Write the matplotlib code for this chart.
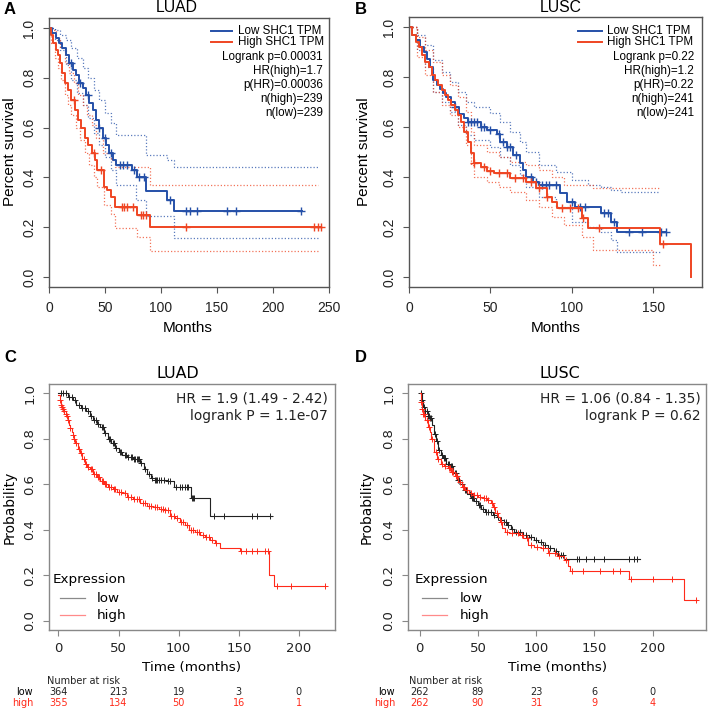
import numpy as np
import matplotlib
matplotlib.use('Agg')
import matplotlib.pyplot as plt
import matplotlib.transforms as mtransforms
from matplotlib.lines import Line2D

W, H = 709, 710

# ---------------- A : GEPIA LUAD ----------------
A_low_t = [0, 3, 6, 9, 12, 15, 18, 21, 24, 27, 30, 33, 36, 39, 42, 45, 48, 51, 54, 57, 60, 74, 79, 87, 105, 112]
A_low_s = [1.0, 0.98, 0.96, 0.94, 0.92, 0.89, 0.86, 0.83, 0.81, 0.78, 0.76, 0.73, 0.70, 0.67, 0.63, 0.60, 0.56, 0.53, 0.50, 0.47, 0.45, 0.43, 0.40, 0.345, 0.31, 0.264]
A_low_end = 226
A_low_cens = [20, 28, 35, 45, 50, 55, 63, 66, 70, 76, 80, 85, 108, 122, 126, 132, 159, 167, 225]
A_high_t = [0, 2, 4, 6, 8, 10, 12, 14, 17, 20, 23, 26, 29, 32, 35, 38, 41, 43, 49, 52, 55, 59, 79, 90]
A_high_s = [1.0, 0.97, 0.94, 0.91, 0.89, 0.86, 0.82, 0.78, 0.75, 0.71, 0.67, 0.63, 0.60, 0.56, 0.53, 0.50, 0.47, 0.43, 0.36, 0.35, 0.32, 0.28, 0.25, 0.20]
A_high_end = 243
A_high_cens = [22, 40, 46, 65, 67, 70, 75, 82, 84, 87, 122, 237, 240, 243]
A_low_up_t = [0, 5, 10, 15, 20, 25, 30, 35, 40, 45, 50, 55, 60, 87, 105, 112]
A_low_up_s = [1.0, 0.99, 0.97, 0.95, 0.92, 0.88, 0.84, 0.80, 0.75, 0.71, 0.66, 0.62, 0.57, 0.49, 0.47, 0.443]
A_low_lo_t = [0, 5, 10, 15, 20, 25, 30, 35, 40, 45, 50, 55, 60, 78, 87, 112]
A_low_lo_s = [1.0, 0.95, 0.91, 0.85, 0.79, 0.74, 0.69, 0.64, 0.58, 0.53, 0.48, 0.43, 0.37, 0.31, 0.245, 0.155]
A_high_up_t = [0, 3, 6, 10, 14, 18, 22, 26, 30, 34, 38, 42, 48, 55, 59, 90]
A_high_up_s = [1.0, 0.99, 0.96, 0.92, 0.86, 0.82, 0.78, 0.73, 0.69, 0.65, 0.61, 0.56, 0.50, 0.47, 0.44, 0.37]
A_high_lo_t = [0, 2, 5, 8, 11, 14, 17, 20, 24, 28, 32, 36, 40, 43, 49, 55, 59, 79, 90]
A_high_lo_s = [1.0, 0.94, 0.88, 0.84, 0.79, 0.73, 0.69, 0.65, 0.60, 0.55, 0.50, 0.45, 0.40, 0.36, 0.29, 0.255, 0.195, 0.16, 0.105]
A_ci_end = 240
A_text = ['Logrank p=0.00031', 'HR(high)=1.7', 'p(HR)=0.00036', 'n(high)=239', 'n(low)=239']

# ---------------- B : GEPIA LUSC ----------------
B_low_t = [0, 2, 4, 7, 9, 11, 13, 15, 17, 19, 21, 23, 26, 28, 31, 34, 36, 44, 48, 54, 56, 60, 64, 68, 70, 72, 76, 80, 93, 97, 102, 118, 124, 128]
B_low_s = [1.0, 0.97, 0.95, 0.92, 0.90, 0.874, 0.84, 0.79, 0.77, 0.754, 0.735, 0.72, 0.70, 0.68, 0.654, 0.635, 0.62, 0.60, 0.588, 0.574, 0.54, 0.52, 0.488, 0.455, 0.428, 0.40, 0.38, 0.368, 0.335, 0.30, 0.28, 0.258, 0.222, 0.18]
B_low_end = 158
B_low_cens = [28, 36, 38, 40, 42, 44, 46, 50, 55, 58, 60, 62, 66, 75, 78, 82, 84, 86, 90, 100, 105, 108, 120, 122, 126, 135, 143, 155, 158]
B_high_t = [0, 2, 4, 6, 8, 10, 12, 14, 16, 18, 20, 22, 24, 26, 28, 30, 32, 34, 36, 38, 40, 44, 48, 52, 62, 72, 78, 85, 88, 91, 106, 110, 154, 173]
B_high_s = [1.0, 0.97, 0.94, 0.92, 0.89, 0.86, 0.84, 0.81, 0.79, 0.77, 0.75, 0.73, 0.71, 0.69, 0.67, 0.65, 0.62, 0.58, 0.54, 0.495, 0.455, 0.44, 0.425, 0.415, 0.395, 0.38, 0.355, 0.32, 0.30, 0.275, 0.235, 0.198, 0.133, 0.0]
B_high_end = 173
B_high_cens = [40, 46, 50, 55, 60, 65, 70, 75, 80, 85, 94, 99, 104, 107, 117, 156]
B_low_up_t = [0, 5, 10, 15, 20, 25, 30, 35, 40, 50, 56, 62, 68, 72, 80, 90, 100, 110, 118, 124, 130]
B_low_up_s = [1.0, 0.97, 0.93, 0.87, 0.82, 0.78, 0.74, 0.70, 0.68, 0.655, 0.62, 0.58, 0.54, 0.50, 0.45, 0.42, 0.39, 0.37, 0.36, 0.35, 0.34]
B_low_lo_t = [0, 5, 10, 15, 20, 25, 30, 35, 40, 50, 56, 62, 68, 72, 80, 90, 100, 110, 118, 124, 128]
B_low_lo_s = [1.0, 0.91, 0.84, 0.74, 0.70, 0.66, 0.61, 0.57, 0.55, 0.52, 0.48, 0.45, 0.41, 0.36, 0.32, 0.28, 0.22, 0.20, 0.18, 0.15, 0.10]
B_high_up_t = [0, 5, 10, 15, 20, 25, 30, 35, 38, 40, 48, 55, 62, 72, 80, 88, 95, 113]
B_high_up_s = [1.0, 0.96, 0.91, 0.86, 0.81, 0.77, 0.72, 0.66, 0.58, 0.53, 0.50, 0.48, 0.46, 0.45, 0.43, 0.40, 0.37, 0.355]
B_high_lo_t = [0, 5, 10, 15, 20, 25, 30, 35, 38, 40, 48, 55, 62, 72, 80, 88, 95, 106, 113, 150]
B_high_lo_s = [1.0, 0.88, 0.81, 0.74, 0.69, 0.65, 0.60, 0.53, 0.45, 0.40, 0.38, 0.36, 0.34, 0.31, 0.28, 0.24, 0.21, 0.16, 0.11, 0.05]
B_ci_end = 154
B_text = ['Logrank p=0.22', 'HR(high)=1.2', 'p(HR)=0.22', 'n(high)=241', 'n(low)=241']

# ---------------- C : KM plotter LUAD ----------------
C_low_t = [0, 8, 12, 15, 19, 23, 26, 29, 32, 35, 38, 41, 44, 47, 50, 53, 57, 62, 68, 71, 74, 77, 80, 90, 96, 110, 126]
C_low_s = [1.0, 0.985, 0.97, 0.95, 0.935, 0.92, 0.90, 0.88, 0.865, 0.85, 0.825, 0.80, 0.78, 0.76, 0.74, 0.73, 0.72, 0.71, 0.692, 0.665, 0.645, 0.627, 0.62, 0.612, 0.59, 0.54, 0.46]
C_low_end = 178
C_low_cens = [2, 4, 6, 9, 11, 14, 17, 20, 22, 25, 27, 30, 31, 33, 36, 37, 39, 42, 43, 45, 46, 48, 51, 52, 55, 56, 58, 60, 61, 63, 64, 65, 66, 67, 69, 72, 75, 78, 80, 81, 82, 84, 85, 88, 91, 93, 98, 101, 103, 105, 107, 108, 111, 112, 113, 129, 138, 161, 165, 176]
C_high_t = [0, 1, 2, 3, 4, 5, 6, 7, 8, 9, 10, 11, 12, 13, 14, 16, 18, 20, 22, 24, 26, 29, 32, 35, 38, 41, 45, 49, 53, 57, 62, 68, 74, 79, 84, 88, 93, 97, 101, 105, 109, 114, 118, 122, 126, 130, 134, 151, 175, 179]
C_high_s = [0.99, 0.97, 0.95, 0.94, 0.93, 0.92, 0.91, 0.90, 0.88, 0.86, 0.845, 0.83, 0.815, 0.80, 0.78, 0.755, 0.735, 0.71, 0.69, 0.675, 0.665, 0.645, 0.63, 0.615, 0.60, 0.59, 0.578, 0.568, 0.56, 0.546, 0.535, 0.517, 0.505, 0.502, 0.49, 0.487, 0.46, 0.45, 0.436, 0.42, 0.40, 0.39, 0.378, 0.37, 0.356, 0.34, 0.32, 0.305, 0.202, 0.151]
C_high_end = 222
C_high_cens = [1, 2, 3, 4, 5, 6, 7, 8, 10, 12, 13, 15, 17, 19, 21, 23, 25, 27, 28, 30, 31, 33, 34, 36, 37, 39, 40, 42, 44, 46, 47, 50, 52, 55, 58, 60, 63, 65, 67, 70, 72, 75, 77, 80, 82, 85, 87, 89, 91, 94, 96, 99, 102, 104, 107, 110, 112, 115, 117, 120, 123, 125, 128, 131, 152, 156, 161, 165, 172, 174, 182, 193, 222]
C_text = ['HR = 1.9 (1.49 - 2.42)', 'logrank P = 1.1e-07']
C_risk_low = [364, 213, 19, 3, 0]
C_risk_high = [355, 134, 50, 16, 1]

# ---------------- D : KM plotter LUSC ----------------
D_low_t = [0, 2, 3, 5, 7, 9, 11, 12, 14, 16, 18, 20, 23, 26, 29, 32, 35, 38, 41, 44, 47, 50, 53, 56, 63, 66, 69, 72, 75, 78, 81, 89, 94, 98, 102, 106, 110, 115, 119, 124]
D_low_s = [1.0, 0.97, 0.94, 0.92, 0.90, 0.89, 0.86, 0.82, 0.79, 0.75, 0.73, 0.714, 0.69, 0.678, 0.65, 0.62, 0.60, 0.575, 0.555, 0.539, 0.525, 0.51, 0.49, 0.48, 0.466, 0.455, 0.444, 0.432, 0.42, 0.405, 0.392, 0.378, 0.367, 0.356, 0.345, 0.334, 0.32, 0.305, 0.29, 0.273]
D_low_end = 189
D_low_cens = [1, 2, 4, 5, 6, 7, 8, 9, 10, 13, 15, 17, 19, 21, 22, 24, 25, 27, 28, 30, 31, 33, 34, 36, 39, 40, 43, 45, 46, 48, 51, 52, 54, 57, 59, 61, 64, 67, 70, 72, 74, 76, 79, 83, 86, 91, 96, 100, 104, 108, 112, 117, 121, 123, 135, 137, 143, 150, 158, 180, 184, 187]
D_high_t = [0, 1, 2, 3, 5, 7, 9, 10, 12, 15, 18, 21, 24, 27, 30, 33, 36, 39, 42, 46, 50, 54, 58, 61, 63, 65, 67, 69, 71, 73, 77, 81, 85, 89, 93, 98, 104, 110, 118, 124, 127, 129, 180, 227]
D_high_s = [1.0, 0.96, 0.93, 0.91, 0.88, 0.85, 0.83, 0.80, 0.74, 0.71, 0.69, 0.68, 0.67, 0.655, 0.634, 0.61, 0.59, 0.575, 0.56, 0.553, 0.545, 0.539, 0.53, 0.517, 0.50, 0.473, 0.455, 0.436, 0.41, 0.392, 0.388, 0.385, 0.375, 0.363, 0.334, 0.325, 0.319, 0.30, 0.283, 0.268, 0.239, 0.22, 0.183, 0.091]
D_high_end = 238
D_high_cens = [1, 2, 3, 4, 6, 8, 11, 14, 16, 19, 22, 25, 26, 28, 29, 31, 32, 35, 37, 38, 41, 44, 47, 49, 52, 55, 57, 59, 62, 64, 66, 70, 75, 79, 84, 88, 92, 96, 101, 106, 111, 116, 120, 126, 131, 140, 155, 166, 172, 181, 200, 217, 237]
D_text = ['HR = 1.06 (0.84 - 1.35)', 'logrank P = 0.62']
D_risk_low = [262, 89, 23, 6, 0]
D_risk_high = [262, 90, 31, 9, 4]

risk_times = [0, 50, 100, 150, 200]
y_ticks = [0.0, 0.2, 0.4, 0.6, 0.8, 1.0]

BLUE = '#2550a8'
RED = '#ef4523'
KM_BLACK = '#222222'
KM_RED = '#ff2a1a'
ARIAL = 'Liberation Sans'
DEJAVU = 'DejaVu Sans'

fig = plt.figure(figsize=(W / 100, H / 100), dpi=100)


def fx(x):
    return x / W


def fy(y):
    return 1 - y / H


def add_ax(l, r, t, b):
    return fig.add_axes([fx(l), fy(b), (r - l) / W, (b - t) / H])


def step_val(t, s, x):
    idx = np.searchsorted(t, x, side='right') - 1
    return np.asarray(s)[idx]


def km(ax, t, s, t_end, color, lw, ls='-', cens=None, ms=6, mew=1.0, alpha=1.0):
    x = np.append(t, t_end)
    y = np.append(s, s[-1])
    ax.step(x, y, where='post', color=color, lw=lw, ls=ls, alpha=alpha)
    if cens is not None:
        ax.plot(cens, step_val(t, s, cens), ls='none', marker='+', color=color,
                ms=ms, mew=mew)


def style_ax(ax, xlim, xticks, family, frame, fs, pad_x, pad_y):
    ax.set_xlim(xlim)
    ax.set_ylim(-0.04, 1.04)
    ax.set_xticks(xticks)
    ax.set_xticklabels([str(v) for v in xticks], family=family, fontsize=fs)
    ax.set_yticks(y_ticks)
    ax.set_yticklabels([f'{v:.1f}' for v in y_ticks], family=family, fontsize=fs,
                       rotation=90, va='center')
    for sp in ax.spines.values():
        sp.set_color(frame)
        sp.set_linewidth(1.0)
    ax.tick_params(length=4, width=0.8, color=frame, labelcolor='#222222')
    ax.tick_params(axis='x', pad=pad_x)
    ax.tick_params(axis='y', pad=pad_y)


# ---------- panel A ----------
axA = add_ax(49, 329, 18, 287)
dots = (0, (1, 1.6))
km(axA, A_low_up_t, A_low_up_s, A_ci_end, BLUE, 0.9, ls=dots, alpha=0.75)
km(axA, A_low_lo_t, A_low_lo_s, A_ci_end, BLUE, 0.9, ls=dots, alpha=0.75)
km(axA, A_high_up_t, A_high_up_s, A_ci_end, RED, 0.9, ls=dots, alpha=0.75)
km(axA, A_high_lo_t, A_high_lo_s, A_ci_end, RED, 0.9, ls=dots, alpha=0.75)
km(axA, A_low_t, A_low_s, A_low_end, BLUE, 1.4, cens=A_low_cens)
km(axA, A_high_t, A_high_s, A_high_end, RED, 1.4, cens=A_high_cens)
style_ax(axA, (0, 250), [0, 50, 100, 150, 200, 250], ARIAL, '#555555', 10, 6, 5)

# ---------- panel B ----------
axB = add_ax(409, 702, 17, 287)
km(axB, B_low_up_t, B_low_up_s, B_ci_end, BLUE, 0.9, ls=dots, alpha=0.75)
km(axB, B_low_lo_t, B_low_lo_s, B_ci_end, BLUE, 0.9, ls=dots, alpha=0.75)
km(axB, B_high_up_t, B_high_up_s, B_ci_end, RED, 0.9, ls=dots, alpha=0.75)
km(axB, B_high_lo_t, B_high_lo_s, B_ci_end, RED, 0.9, ls=dots, alpha=0.75)
km(axB, B_low_t, B_low_s, B_low_end, BLUE, 1.4, cens=B_low_cens)
km(axB, B_high_t, B_high_s, B_high_end, RED, 1.4, cens=B_high_cens)
style_ax(axB, (0, 180), [0, 50, 100, 150], ARIAL, '#555555', 10, 6, 5)


def gepia_text(title, title_x, xl_x, yl_x, line_x0, line_x1, txt_x, right_x, stats):
    fig.text(fx(title_x), fy(8), title, family=ARIAL, fontsize=11.3, ha='center', va='center')
    fig.add_artist(Line2D([fx(line_x0), fx(line_x1)], [fy(31), fy(31)], color=BLUE, lw=1.4))
    fig.add_artist(Line2D([fx(line_x0), fx(line_x1)], [fy(42), fy(42)], color=RED, lw=1.4))
    fig.text(fx(txt_x), fy(31), 'Low SHC1 TPM', family=ARIAL, fontsize=8.4, va='center')
    fig.text(fx(txt_x), fy(42), 'High SHC1 TPM', family=ARIAL, fontsize=8.4, va='center')
    for i, s in enumerate(stats):
        fig.text(fx(right_x), fy(57 + 14 * i), s, family=ARIAL, fontsize=8.4,
                 va='center', ha='right')
    fig.text(fx(xl_x), fy(328), 'Months', family=ARIAL, fontsize=11, ha='center', va='center')
    fig.text(fx(yl_x), fy(152), 'Percent survival', family=ARIAL, fontsize=11,
             ha='center', va='center', rotation=90)


gepia_text('LUAD', 177, 188, 10, 211, 232, 238, 323, A_text)
gepia_text('LUSC', 561, 556, 364, 578, 602, 607, 694, B_text)

# ---------- panel C ----------
axC = add_ax(49, 335, 384, 630)
km(axC, C_low_t, C_low_s, C_low_end, KM_BLACK, 0.8, cens=C_low_cens, ms=5, mew=0.7)
km(axC, C_high_t, C_high_s, C_high_end, KM_RED, 0.8, cens=C_high_cens, ms=5, mew=0.7)
style_ax(axC, (-7.8, 230), [0, 50, 100, 150, 200], DEJAVU, '#888888', 9.5, 5, 5)

# ---------- panel D ----------
axD = add_ax(408, 706, 384, 630)
km(axD, D_low_t, D_low_s, D_low_end, KM_BLACK, 0.8, cens=D_low_cens, ms=5, mew=0.7)
km(axD, D_high_t, D_high_s, D_high_end, KM_RED, 0.8, cens=D_high_cens, ms=5, mew=0.7)
style_ax(axD, (-10, 245.8), [0, 50, 100, 150, 200], DEJAVU, '#888888', 9.5, 5, 5)


def kmplot_text(ax, title, title_x, right_x, xl_x, yl_x, leg_x, line_x0, line_x1, txt_x,
                stats, risk_low, risk_high):
    fig.text(fx(title_x), fy(373), title, family=DEJAVU, fontsize=11.4, ha='center', va='center')
    fig.text(fx(right_x), fy(398), stats[0], family=DEJAVU, fontsize=9.9, ha='right', va='center',
             color='#222222')
    fig.text(fx(right_x), fy(416), stats[1], family=DEJAVU, fontsize=9.9, ha='right', va='center',
             color='#222222')
    fig.text(fx(leg_x), fy(579), 'Expression', family=DEJAVU, fontsize=9.7, va='center')
    fig.add_artist(Line2D([fx(line_x0), fx(line_x1)], [fy(598), fy(598)], color='#8a8a8a', lw=0.9))
    fig.add_artist(Line2D([fx(line_x0), fx(line_x1)], [fy(615), fy(615)], color='#ff8a8a', lw=0.9))
    fig.text(fx(txt_x), fy(598), 'low', family=DEJAVU, fontsize=9.7, va='center')
    fig.text(fx(txt_x), fy(615), 'high', family=DEJAVU, fontsize=9.7, va='center')
    fig.text(fx(xl_x), fy(668), 'Time (months)', family=DEJAVU, fontsize=9.7, ha='center', va='center')
    fig.text(fx(yl_x), fy(507), 'Probability', family=DEJAVU, fontsize=9.9, ha='center',
             va='center', rotation=90)
    tr = mtransforms.blended_transform_factory(ax.transData, fig.transFigure)
    ax.text(-9.5, fy(681), 'Number at risk', transform=tr, family=DEJAVU, fontsize=7,
            va='center', color='#222222')
    ax.text(-21, fy(692), 'low', transform=tr, family=DEJAVU, fontsize=7, va='center', ha='right')
    ax.text(-21, fy(703), 'high', transform=tr, family=DEJAVU, fontsize=7, va='center', ha='right',
            color=KM_RED)
    for t, lo, hi in zip(risk_times, risk_low, risk_high):
        ax.text(t, fy(692), str(lo), transform=tr, family=DEJAVU, fontsize=7, va='center',
                ha='center', color='#222222')
        ax.text(t, fy(703), str(hi), transform=tr, family=DEJAVU, fontsize=7, va='center',
                ha='center', color=KM_RED)


kmplot_text(axC, 'LUAD', 178, 328, 192, 10, 53, 60, 85, 97, C_text, C_risk_low, C_risk_high)
kmplot_text(axD, 'LUSC', 560, 701, 558, 367, 415, 422, 447, 460, D_text, D_risk_low, D_risk_high)

# panel letters
for letter, (x, y) in zip('ABCD', [(10, 10), (361, 10), (10, 358), (361, 358)]):
    fig.text(fx(x), fy(y), letter, family=ARIAL, fontsize=12, weight='bold', ha='center', va='center')

fig.savefig('out.png', dpi=100)
